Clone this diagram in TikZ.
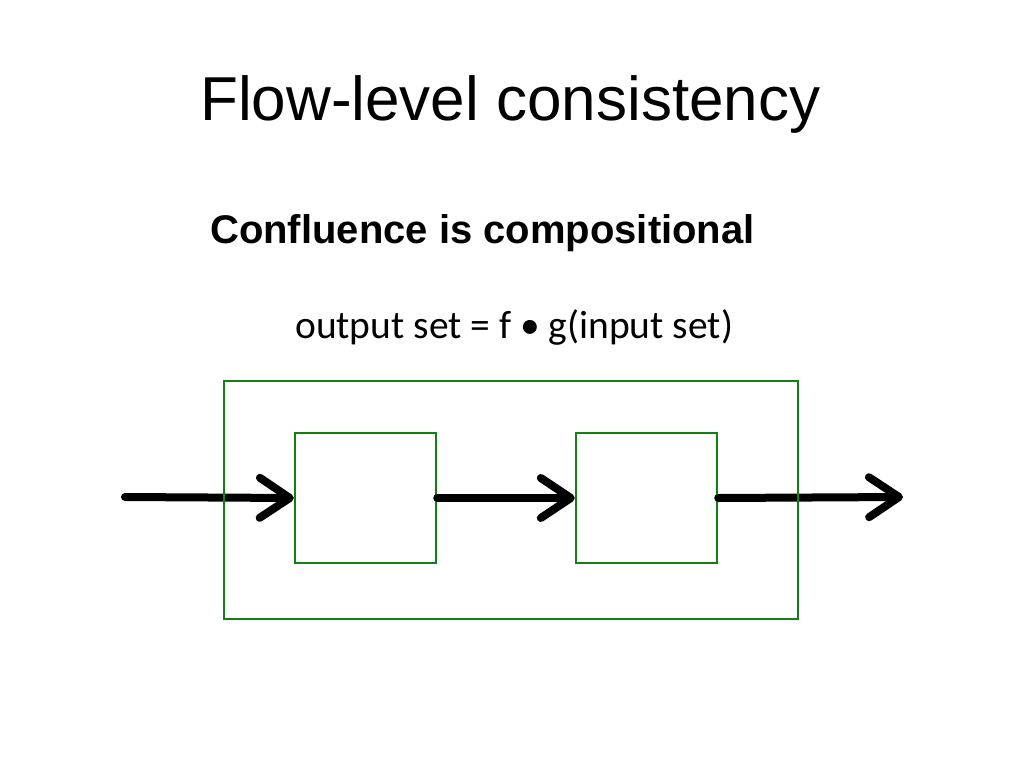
\documentclass[tikz,border=0pt]{standalone}
\usepackage{fontspec}
\setmainfont{Liberation Sans}
\newfontfamily\calibrifont{Carlito}
\usetikzlibrary{arrows.meta}
\definecolor{boxgreen}{RGB}{18,128,18}
\tikzset{
  flowbox/.style={draw=boxgreen, line width=2.4pt, rectangle, inner sep=0pt},
  flowarrow/.style={draw=black, line width=8pt, line cap=round,
    -{Straight Barb[length=30pt, width=40pt, round]}},
}
\begin{document}
\begin{tikzpicture}[x=1pt, y=-1pt]
\useasboundingbox (0,0) rectangle (1024,768);
\node[anchor=base west, inner sep=0pt, font=\fontsize{62}{70}\selectfont] (title) at (200,120) {Flow-level consistency};
\node[anchor=base west, inner sep=0pt, font=\fontsize{40}{46}\selectfont\bfseries] (sub) at (210,243) {Confluence is compositional};
\node[anchor=base west, inner sep=0pt, font=\calibrifont\fontsize{39.5}{46}\selectfont] (eq) at (295,338) {output set = f • g(input set)};
% boxes
\node[flowbox, minimum width=141pt, minimum height=130pt] (f) at (365.5,498) {};
\node[flowbox, minimum width=141pt, minimum height=130pt] (g) at (646.5,498) {};
\coordinate (in) at (125,497);
\coordinate (out) at (903,497);
\draw[flowarrow] (in) -- (f.west);
\draw[flowarrow] (f.east) -- (g.west);
\draw[flowarrow] (g.east) -- (out);
\node[flowbox, minimum width=574pt, minimum height=238pt] (outer) at (511,500) {};
\end{tikzpicture}
\end{document}
